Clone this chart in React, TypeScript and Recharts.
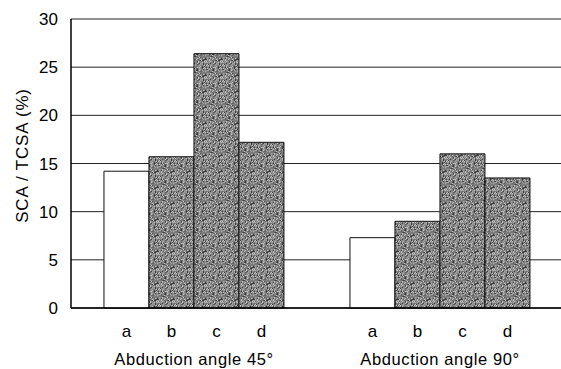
import React from 'react';
import { BarChart, Bar, XAxis, YAxis, CartesianGrid, LabelList } from 'recharts';

const groups = ['Abduction angle 45°', 'Abduction angle 90°'];
const seriesNames = ['a', 'b', 'c', 'd'];
const valuesA = [14.2, 7.3];
const valuesB = [15.7, 9.0];
const valuesC = [26.4, 16.0];
const valuesD = [17.2, 13.5];
const yTicks = [0, 5, 10, 15, 20, 25, 30];

const seriesValues = [valuesA, valuesB, valuesC, valuesD];
const data = groups.map((g, i) => {
  const row: Record<string, string | number> = { group: g };
  seriesNames.forEach((s, k) => {
    row[s] = seriesValues[k][i];
  });
  return row;
});

const FONT = '"Liberation Sans", Arial, Helvetica, sans-serif';
const fills = ['#ffffff', 'url(#stipple)', 'url(#stipple)', 'url(#stipple)'];

// deterministic texture for the stippled fill (purely decorative, not data)
const TEX = 16;
const shades = ['#3c3c3c', '#5e5e5e', '#767676', '#8a8a8a', '#a2a2a2', '#c6c6c6', '#808080'];
const texture: { x: number; y: number; c: string }[] = [];
for (let yy = 0; yy < TEX; yy++) {
  for (let xx = 0; xx < TEX; xx++) {
    const h = ((xx * 73856093) ^ (yy * 19349663) ^ ((xx * 7 + yy * 13) * 83492791)) >>> 0;
    const v = ((h >>> 7) % 101) % shades.length;
    texture.push({ x: xx, y: yy, c: shades[v] });
  }
}

const letterLabel = (letter: string) => (props: any) => {
  const { x, y, width, height } = props;
  return (
    <text
      x={Number(x) + Number(width) / 2}
      y={Number(y) + Number(height) + 29}
      textAnchor="middle"
      fontFamily={FONT}
      fontSize={17}
      fill="#000"
    >
      {letter}
    </text>
  );
};

const GroupTick = (props: any) => {
  const { x, y, payload } = props;
  return (
    <text x={x} y={y + 57} textAnchor="middle" fontFamily={FONT} fontSize={16.5} letterSpacing={0.6} fill="#000">
      {payload.value}
    </text>
  );
};

const YLabel = (props: any) => {
  const { viewBox } = props;
  const cx = viewBox.x + 22;
  const cy = viewBox.y + viewBox.height / 2 - 8;
  return (
    <text
      x={cx}
      y={cy}
      transform={`rotate(-90, ${cx}, ${cy})`}
      textAnchor="middle"
      dominantBaseline="central"
      fontFamily={FONT}
      fontSize={17}
      letterSpacing={0.8}
      fill="#000"
    >
      SCA / TCSA (%)
    </text>
  );
};

export default function App() {
  return (
    <div style={{ position: 'absolute', left: 0, top: 0, width: 561, height: 369, overflow: 'hidden', background: '#fff' }}>
      <BarChart
        width={563}
        height={369}
        data={data}
        margin={{ top: 19, right: 0, left: 0, bottom: 0 }}
        barCategoryGap="13.4%"
        barGap={0}
      >
        <defs>
          <pattern id="stipple" width={TEX} height={TEX} patternUnits="userSpaceOnUse">
            {texture.map((p, i) => (
              <rect key={i} x={p.x} y={p.y} width={1} height={1} fill={p.c} shapeRendering="crispEdges" />
            ))}
          </pattern>
        </defs>
        <CartesianGrid vertical={false} stroke="#222" strokeWidth={1} />
        <XAxis
          dataKey="group"
          height={61}
          tickLine={false}
          tickSize={0}
          tickMargin={0}
          axisLine={{ stroke: '#000', strokeWidth: 1.5 }}
          tick={<GroupTick />}
          interval={0}
        />
        <YAxis
          width={71}
          domain={[0, 30]}
          ticks={yTicks}
          tickLine={false}
          tickSize={0}
          tickMargin={13}
          axisLine={{ stroke: '#000', strokeWidth: 1.5 }}
          tick={{ fontFamily: FONT, fontSize: 17, fill: '#000' }}
          label={<YLabel />}
        />
        {seriesNames.map((s, k) => (
          <Bar key={s} dataKey={s} fill={fills[k]} stroke="#111" strokeWidth={1} isAnimationActive={false}>
            <LabelList dataKey={s} content={letterLabel(s)} />
          </Bar>
        ))}
      </BarChart>
    </div>
  );
}
